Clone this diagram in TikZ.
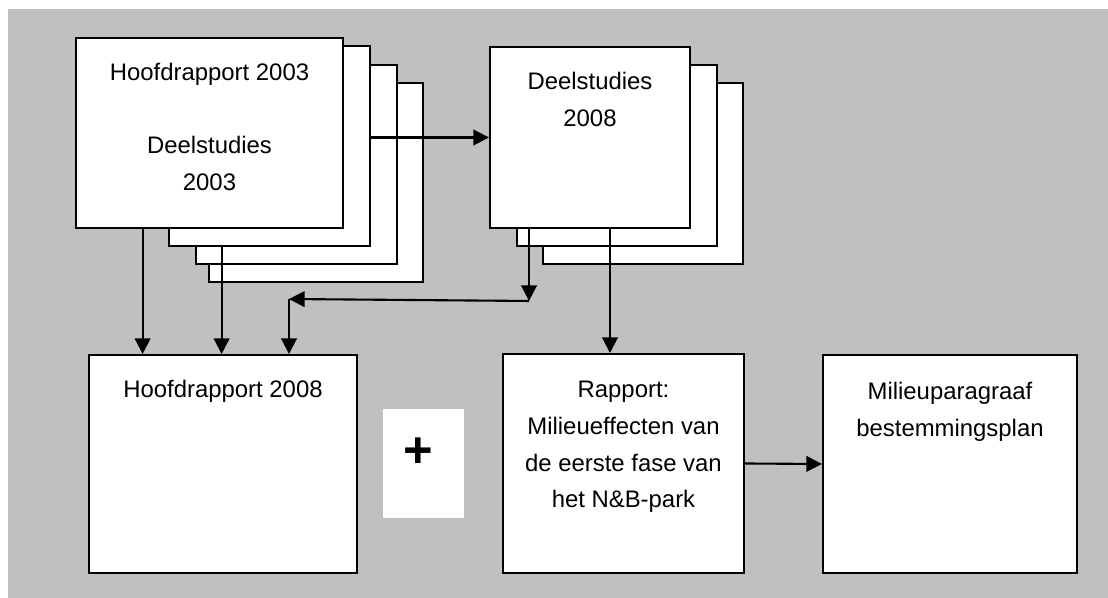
\documentclass[tikz,border=0pt]{standalone}
\usepackage{fontspec}
\setmainfont{Liberation Sans}
\usetikzlibrary{positioning,arrows.meta}
\definecolor{bggray}{HTML}{C0C0C0}

\begin{document}
\begin{tikzpicture}[sheet/.style={draw,fill=white,line width=1.4pt,anchor=north west,inner sep=0pt},
    txt/.style={align=center,inner sep=0pt,font=\fontsize{17}{26.1}\selectfont},
    arr/.style={line width=1.5pt,-{Triangle[length=0.39cm,width=0.39cm]}}]
    \useasboundingbox (0,0) rectangle (27.7,-14.95);
    \fill[bggray] (0.2,-0.225) rectangle (27.7,-14.95);
    \node[sheet,minimum width=5.35cm,minimum height=4.975cm] (s1d) at (5.2,-2.05) {};
    \node[sheet,minimum width=5.025cm,minimum height=4.975cm] (s1c) at (4.875,-1.6) {};
    \node[sheet,minimum width=5.025cm,minimum height=5cm] (s1b) at (4.2,-1.125) {};
    \node[sheet,minimum width=6.675cm,minimum height=4.75cm] (h03) at (1.875,-0.925) {};
    \node[txt,below=0.65cm of h03.north] (t03) {Hoofdrapport 2003\\[26.1pt]Deelstudies\\2003};
    \node[sheet,minimum width=5cm,minimum height=4.525cm] (s2c) at (13.55,-2.05) {};
    \node[sheet,minimum width=5cm,minimum height=4.525cm] (s2b) at (12.9,-1.6) {};
    \node[sheet,minimum width=5cm,minimum height=4.525cm] (d08) at (12.225,-1.15) {};
    \node[txt,below=0.65cm of d08.north] (t08) {Deelstudies\\2008};
    \node[sheet,minimum width=6.7cm,minimum height=5.45cm] (h08) at (2.2,-8.85) {};
    \node[txt,below=0.65cm of h08.north] (th08) {Hoofdrapport 2008};
    \node[sheet,draw=none,minimum width=2.025cm,minimum height=2.725cm] (plusbox) at (9.55,-10.2) {};
    \node[font=\fontsize{36}{44}\selectfont\bfseries] (plus) at ([xshift=-0.14cm,yshift=0.26cm]plusbox.center) {+};
    \node[sheet,minimum width=6.025cm,minimum height=5.475cm] (rap) at (12.55,-8.825) {};
    \node[txt,below=0.7cm of rap.north] (trap) {Rapport:\\Milieueffecten van\\de eerste fase van\\het N\&B-park};
    \node[sheet,minimum width=6.35cm,minimum height=5.45cm] (mil) at (20.55,-8.85) {};
    \node[txt,below=0.7cm of mil.north] (tmil) {Milieuparagraaf\\bestemmingsplan};
    \coordinate (o1) at ([xshift=1.69cm]h03.south west);
    \coordinate (o2) at ([xshift=1.34cm]s1b.south west);
    \coordinate (o3) at ([xshift=1cm]d08.south west);
    \coordinate (o4) at ([xshift=0.5cm]d08.south);
    \coordinate (jn) at ([yshift=-1.8cm]o3);
    \coordinate (bend) at (7.225,-7.475);
    \draw[arr] (s1b.east |- d08.west) -- (d08.west);
    \draw[arr] (o1) -- (o1 |- h08.north);
    \draw[arr] (o2) -- (o2 |- h08.north);
    \draw[arr] (o3) -- (jn);
    \draw[arr] (jn) -- (bend);
    \draw[arr] (bend) -- (bend |- h08.north);
    \draw[arr] (o4) -- (o4 |- rap.north);
    \draw[arr] (rap.east) -- (mil.west);
\end{tikzpicture}
\end{document}
